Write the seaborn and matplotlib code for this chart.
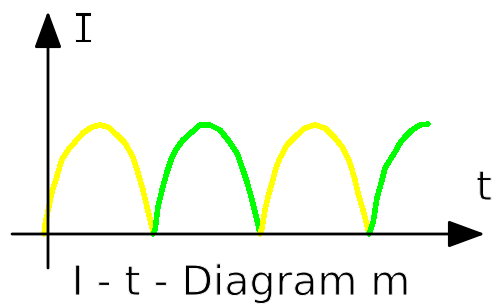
#!/usr/bin/env python3
"""
I-t diagram of a full-wave rectified current (alternating half-waves).
"""

import matplotlib
matplotlib.use("Agg")
import matplotlib.pyplot as plt
import matplotlib.patheffects as pe
import numpy as np
import pandas as pd
import seaborn as sns

# ── Data (t and I in picture units) ─────────────────────────────────────────
t_half1 = [-4, -3, 3.7, 8.7, 13.7, 20, 27, 35, 44, 52, 60, 69, 77, 85, 90, 95, 99, 104, 105]
i_half1 = [0, 9, 41, 57, 74, 84, 92, 101, 107, 109, 107, 99, 91, 77, 61, 44, 27, 7, 0]

t_half2 = [105, 107, 110, 114, 119, 124, 129, 135, 144, 152, 162, 172, 180, 189, 194, 199, 204, 209, 212]
i_half2 = [0, 4, 27, 44, 62, 77, 86, 94, 102, 109, 109, 104, 94, 81, 67, 52, 34, 14, 0]

t_half3 = [212, 214, 217, 220, 224, 228, 232, 239, 249, 257, 267, 277, 287, 295, 302, 307, 310, 315, 319, 321]
i_half3 = [0, 6, 24, 37, 51, 66, 76, 89, 99, 106, 109, 106, 96, 86, 71, 54, 41, 24, 9, 0]

t_half4 = [321, 325, 329, 334, 337, 342, 347, 352, 357, 364, 372, 380]
i_half4 = [0, 11, 36, 54, 66, 74, 82, 91, 97, 104, 109, 110]

half_colors = ["#FFFF00", "#00FF00", "#FFFF00", "#00FF00"]

TITLE = "I - t - Diagram m"
X_LABEL = "t"
Y_LABEL = "I"

# ── Styling ─────────────────────────────────────────────────────────────────
sns.set_theme(style="white")
plt.rcParams.update({
    "font.family": ["DejaVu Sans"],
    "lines.antialiased": False,
})

halves = [(t_half1, i_half1), (t_half2, i_half2), (t_half3, i_half3), (t_half4, i_half4)]
frames = []
for k, (t, i) in enumerate(halves):
    frames.append(pd.DataFrame({"t": t, "I": i, "half": k}))
df = pd.concat(frames, ignore_index=True)

fig = plt.figure(figsize=(4.98, 3.07), dpi=100)
ax = fig.add_axes([0, 0, 1, 1])
ax.set_xlim(-48, 450)
ax.set_ylim(-73, 234)
ax.axis("off")

for k, color in enumerate(half_colors):
    sub = df[df["half"] == k]
    sns.lineplot(data=sub, x="t", y="I", color=color, lw=3.2, ax=ax,
                 estimator=None, sort=False, legend=False)

# axes drawn as arrows
arrow = dict(arrowstyle="-|>,head_length=1.9,head_width=0.7", color="black",
             lw=2, shrinkA=0, shrinkB=0)
ax.annotate("", xy=(0, 223), xytext=(0, -34), arrowprops=arrow)
ax.annotate("", xy=(437, 0), xytext=(-36, 0), arrowprops=arrow)

# slightly thinner strokes: erode glyph outlines with a thin white stroke on top
thin = [pe.Normal(), pe.Stroke(linewidth=0.7, foreground="white")]
font = dict(fontsize=29.5, color="black", path_effects=thin)
ax.text(35, 192, Y_LABEL, ha="center", va="baseline", family="DejaVu Sans Mono", **font)
ax.text(428, 34, X_LABEL, ha="left", va="baseline", **font)
ax.text(193, -61, TITLE, ha="center", va="baseline", **font)

fig.savefig("out.png", dpi=100)
plt.close(fig)
